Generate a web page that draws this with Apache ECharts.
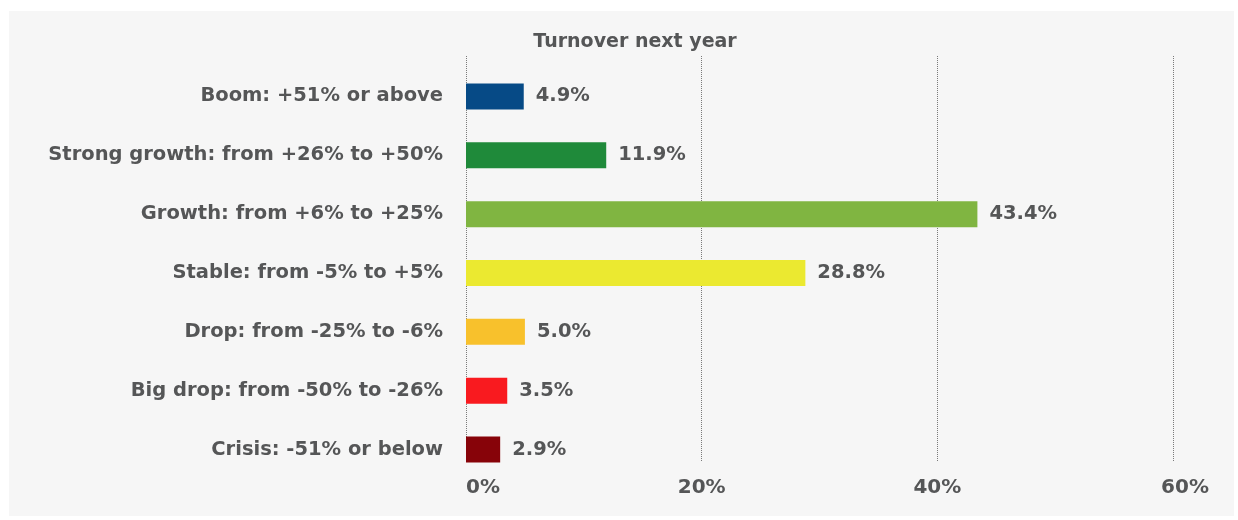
<!DOCTYPE html>
<html>
<head>
<meta charset="utf-8">
<script src="https://cdn.jsdelivr.net/npm/echarts@6/dist/echarts.min.js"></script>
<style>
  html, body { margin: 0; padding: 0; background: #ffffff; }
  #chart { width: 1238px; height: 520px; }
</style>
</head>
<body>
<div id="chart"></div>
<script>
// Expected turnover change next year, share of respondents (%)
const categories = [
  'Boom: +51% or above',
  'Strong growth: from +26% to +50%',
  'Growth: from +6% to +25%',
  'Stable: from -5% to +5%',
  'Drop: from -25% to -6%',
  'Big drop: from -50% to -26%',
  'Crisis: -51% or below'
];
const shares = [4.9, 11.9, 43.4, 28.8, 5.0, 3.5, 2.9];
const barColors = ['#064a86', '#1f8a3a', '#80b541', '#ebe930', '#f8c12c', '#f91a1f', '#870309'];
const xTicks = [0, 20, 40, 60];

const textColor = '#555657';
const fontFamily = '"DejaVu Sans", "Open Sans", sans-serif';
const xMin = xTicks[0];
const xMax = xTicks[xTicks.length - 1];
const xStep = xTicks[1] - xTicks[0];

const chart = echarts.init(document.getElementById('chart'));
chart.setOption({
  backgroundColor: '#ffffff',
  animation: false,
  graphic: [{
    type: 'rect',
    shape: { x: 9, y: 11, width: 1225, height: 505 },
    style: { fill: '#f6f6f6' },
    z: -10
  }],
  title: {
    text: 'Turnover next year',
    left: 630,
    top: 28,
    textAlign: 'center',
    textStyle: { color: textColor, fontFamily, fontWeight: 700, fontSize: 19 }
  },
  // grid 0 holds the bars, grid 1 carries the dotted gridlines and tick labels
  grid: [
    { left: 466, right: 65, top: 67, bottom: 41, containLabel: false },
    { left: 466, right: 65, top: 56, bottom: 58, containLabel: false }
  ],
  xAxis: [{
    type: 'value',
    gridIndex: 0,
    min: xMin,
    max: xMax,
    interval: xStep,
    axisLine: { show: false },
    axisTick: { show: false },
    splitLine: { show: false },
    axisLabel: { show: false }
  }, {
    type: 'value',
    gridIndex: 1,
    min: xMin,
    max: xMax,
    interval: xStep,
    axisLine: { show: false },
    axisTick: { show: false },
    splitLine: { show: true, lineStyle: { type: 'dotted', color: '#7a7a7a', width: 1 } },
    axisLabel: {
      margin: 16,
      color: textColor,
      fontFamily,
      fontWeight: 700,
      fontSize: 20,
      alignMinLabel: 'left',
      formatter: v => v === xMax ? '{last|' + v + '%}' : v + '%',
      rich: {
        last: { color: textColor, fontFamily, fontWeight: 700, fontSize: 20, padding: [0, 0, 0, 24] }
      }
    }
  }],
  yAxis: [{
    type: 'category',
    gridIndex: 0,
    data: categories,
    inverse: true,
    axisLine: { show: false },
    axisTick: { show: false },
    axisLabel: {
      margin: 23,
      color: textColor,
      fontFamily,
      fontWeight: 700,
      fontSize: 19.5
    }
  }, {
    type: 'value',
    gridIndex: 1,
    show: false
  }],
  series: [{
    type: 'bar',
    xAxisIndex: 0,
    yAxisIndex: 0,
    data: shares.map((v, i) => ({ value: v, itemStyle: { color: barColors[i] } })),
    barWidth: 26,
    label: {
      show: true,
      position: 'right',
      distance: 12,
      color: textColor,
      fontFamily,
      fontWeight: 700,
      fontSize: 19.5,
      formatter: p => p.value.toFixed(1) + '%'
    }
  }]
});
</script>
</body>
</html>
